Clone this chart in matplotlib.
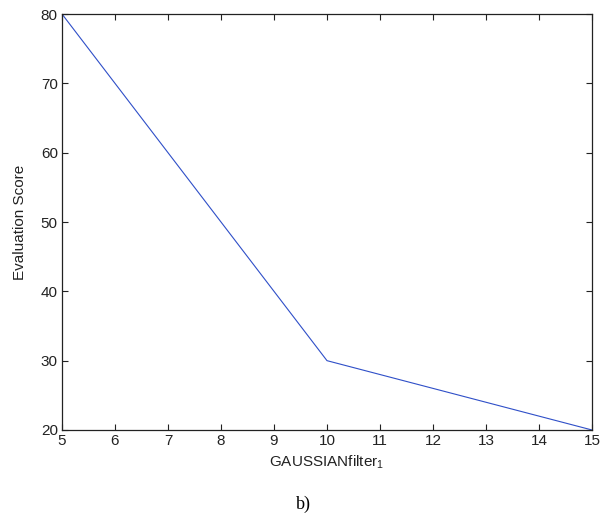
import matplotlib
matplotlib.use("Agg")
import matplotlib.pyplot as plt

# evaluation score vs gaussian filter size
filter_size = [5, 10, 15]
score = [80, 30, 20]

x_ticks = list(range(5, 16))
y_ticks = [20, 30, 40, 50, 60, 70, 80]

plt.rcParams["font.family"] = ["Liberation Sans", "DejaVu Sans"]
plt.rcParams["mathtext.fontset"] = "custom"
plt.rcParams["mathtext.rm"] = "Liberation Sans"

fig = plt.figure(figsize=(6.06, 5.19), dpi=100)
ax = fig.add_axes([0.1023, 0.1715, 0.8746, 0.8015])

ax.plot(filter_size, score, color="#2f4fc8", linewidth=0.8)

ax.set_xlim(5, 15)
ax.set_ylim(20, 80)
ax.set_xticks(x_ticks)
ax.set_yticks(y_ticks)
ax.tick_params(direction="in", top=True, right=True, length=4, width=0.8,
               labelsize=11, colors="#222222", pad=3)
for spine in ax.spines.values():
    spine.set_linewidth(0.9)
    spine.set_color("#222222")

ax.set_xlabel(r"GAUSSIANfilter$_{\mathrm{1}}$", fontsize=11, labelpad=4,
              color="#222222")
ax.set_ylabel("Evaluation Score", fontsize=11, labelpad=10, color="#222222")

fig.text(0.5, 0.012, "b)", ha="center", va="bottom",
         family="Liberation Serif", fontsize=13)

fig.savefig("out.png", dpi=100)
